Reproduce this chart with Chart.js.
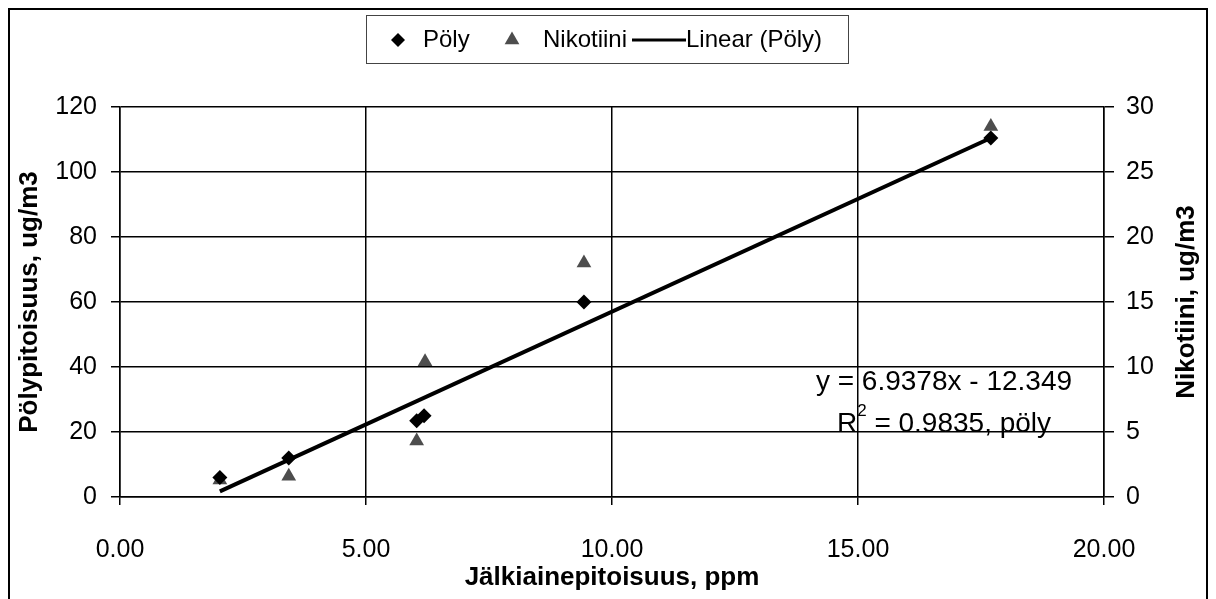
<!DOCTYPE html>
<html>
<head>
<meta charset="utf-8">
<script src="https://cdn.jsdelivr.net/npm/chart.js@4.4.1/dist/chart.umd.min.js"></script>
<style>
  html, body { margin: 0; padding: 0; background: #fff; }
  #wrap { width: 1216px; height: 599px; position: relative; }
</style>
</head>
<body>
<div id="wrap"><canvas id="myChart" width="1216" height="599"></canvas></div>
<script>
'use strict';

// data
let polyX = [2.03, 3.43, 6.03, 6.18, 9.43, 17.70];
let polyY = [6, 12, 23.5, 25, 60, 110.5];
let nikotiiniX = [2.03, 3.43, 6.03, 6.20, 9.43, 17.70];
let nikotiiniY = [1.3, 1.6, 4.3, 10.4, 18.0, 28.5];

// trend line shown in the chart (Excel linear fit of Pöly)
let trendSlope = 6.9378;
let trendIntercept = -12.349;
let trendR2 = '0.9835';

let xTicks = [0, 5, 10, 15, 20];
let yTicks = [0, 20, 40, 60, 80, 100, 120];
let y2Ticks = [0, 5, 10, 15, 20, 25, 30];

let legendNames = ['Pöly', 'Nikotiini', 'Linear (Pöly)'];
let y2Title = 'Nikotiini, ug/m3';

let polyPoints = [];
for (let i = 0; i < polyX.length; i++) {
    polyPoints.push({x: polyX[i], y: polyY[i]});
}
let nikPoints = [];
for (let i = 0; i < nikotiiniX.length; i++) {
    nikPoints.push({x: nikotiiniX[i], y: nikotiiniY[i]});
}
let xMin = Math.min(...polyX);
let xMax = Math.max(...polyX);
let trendPoints = [
    {x: xMin, y: trendSlope * xMin + trendIntercept},
    {x: xMax, y: trendSlope * xMax + trendIntercept}
];

const FONT = 'Liberation Sans, Arial, sans-serif';

let frameAndText = {
    id: 'frameAndText',
    afterDraw(chart) {
        let ctx = chart.ctx;
        ctx.save();
        // outer frame
        ctx.strokeStyle = '#000';
        ctx.lineWidth = 2;
        ctx.strokeRect(9, 9, 1198, 600);

        // legend box
        let lx = 366, ly = 15, lw = 482, lh = 48;
        ctx.lineWidth = 1;
        ctx.strokeStyle = '#444';
        ctx.strokeRect(lx + 0.5, ly + 0.5, lw, lh);
        let cy = ly + lh / 2 + 1;
        ctx.font = '24px ' + FONT;
        ctx.textBaseline = 'middle';
        ctx.textAlign = 'left';

        ctx.fillStyle = '#000';
        Chart.helpers.drawPoint(ctx, {pointStyle: 'rectRot', radius: 7, rotation: 0, borderWidth: 0}, 398, cy);
        ctx.fillStyle = '#000';
        ctx.fillText(legendNames[0], 423, cy);

        ctx.fillStyle = '#4d4d4d';
        Chart.helpers.drawPoint(ctx, {pointStyle: 'triangle', radius: 8.5, rotation: 0, borderWidth: 0}, 512, cy);
        ctx.fillStyle = '#000';
        ctx.fillText(legendNames[1], 543, cy);

        ctx.strokeStyle = '#000';
        ctx.lineWidth = 3;
        ctx.beginPath();
        ctx.moveTo(632, cy);
        ctx.lineTo(686, cy);
        ctx.stroke();
        ctx.fillText(legendNames[2], 686, cy);

        // trend equation
        ctx.font = '28px ' + FONT;
        ctx.textAlign = 'center';
        ctx.fillText('y = ' + trendSlope + 'x - ' + Math.abs(trendIntercept), 944, 382);
        ctx.textAlign = 'left';
        let r = 'R';
        let rest = ' = ' + trendR2 + ', pöly';
        let wR = ctx.measureText(r).width;
        ctx.font = '17px ' + FONT;
        let w2 = ctx.measureText('2').width;
        ctx.font = '28px ' + FONT;
        let wRest = ctx.measureText(rest).width;
        let startX = 944 - (wR + w2 + wRest) / 2;
        ctx.fillText(r, startX, 424);
        ctx.font = '17px ' + FONT;
        ctx.fillText('2', startX + wR, 411);
        ctx.font = '28px ' + FONT;
        ctx.fillText(rest, startX + wR + w2, 424);

        // right axis title, reading bottom to top
        let y2 = chart.scales.y2;
        ctx.translate(1187, (y2.top + y2.bottom) / 2);
        ctx.rotate(-Math.PI / 2);
        ctx.textAlign = 'center';
        ctx.font = 'bold 26px ' + FONT;
        ctx.fillText(y2Title, 0, 0);
        ctx.restore();
    }
};

let ctx = document.getElementById('myChart').getContext('2d');
let chart = new Chart(ctx, {
    type: 'scatter',
    data: {
        datasets: [{
            label: legendNames[0],
            data: polyPoints,
            yAxisID: 'y',
            pointStyle: 'rectRot',
            pointRadius: 7.5,
            backgroundColor: '#000',
            borderColor: '#000',
            borderWidth: 0,
            order: 1
        }, {
            label: legendNames[1],
            data: nikPoints,
            yAxisID: 'y2',
            pointStyle: 'triangle',
            pointRadius: 8.5,
            backgroundColor: '#4d4d4d',
            borderColor: '#4d4d4d',
            borderWidth: 0,
            order: 2
        }, {
            label: legendNames[2],
            data: trendPoints,
            yAxisID: 'y',
            showLine: true,
            pointRadius: 0,
            borderColor: '#000',
            borderWidth: 4,
            order: 0
        }]
    },
    options: {
        responsive: false,
        animation: false,
        layout: {padding: {top: 107, left: 0, right: 0, bottom: 0}},
        plugins: {
            legend: {display: false},
            tooltip: {enabled: false}
        },
        scales: {
            x: {
                type: 'linear',
                min: 0,
                max: 20,
                afterBuildTicks: (s) => { s.ticks = xTicks.map(v => ({value: v})); },
                afterFit: (s) => { s.height = 102; },
                ticks: {
                    color: '#000',
                    font: {family: FONT, size: 25},
                    padding: 30,
                    maxRotation: 0,
                    callback: (v) => Number(v).toFixed(2)
                },
                grid: {color: '#000', lineWidth: 1.5, tickLength: 8},
                border: {color: '#000', width: 1.5},
                title: {
                    display: true,
                    text: 'Jälkiainepitoisuus, ppm',
                    color: '#000',
                    font: {family: FONT, size: 26, weight: 'bold'},
                    padding: {top: 0, bottom: 6}
                }
            },
            y: {
                position: 'left',
                min: 0,
                max: 120,
                afterBuildTicks: (s) => { s.ticks = yTicks.map(v => ({value: v})); },
                afterFit: (s) => { s.width = 120; },
                ticks: {color: '#000', font: {family: FONT, size: 25}, padding: 14},
                grid: {color: '#000', lineWidth: 1.5, tickLength: 9},
                border: {color: '#000', width: 1.5},
                title: {
                    display: true,
                    text: 'Pölypitoisuus, ug/m3',
                    color: '#000',
                    font: {family: FONT, size: 26, weight: 'bold'},
                    padding: {top: 14, bottom: 0}
                }
            },
            y2: {
                position: 'right',
                min: 0,
                max: 30,
                afterBuildTicks: (s) => { s.ticks = y2Ticks.map(v => ({value: v})); },
                afterFit: (s) => { s.width = 112; },
                ticks: {color: '#000', font: {family: FONT, size: 25}, padding: 12},
                grid: {drawOnChartArea: false, color: '#000', lineWidth: 1.5, tickLength: 10},
                border: {color: '#000', width: 1.5},
                title: {display: false}
            }
        }
    },
    plugins: [frameAndText]
});
</script>
</body>
</html>
